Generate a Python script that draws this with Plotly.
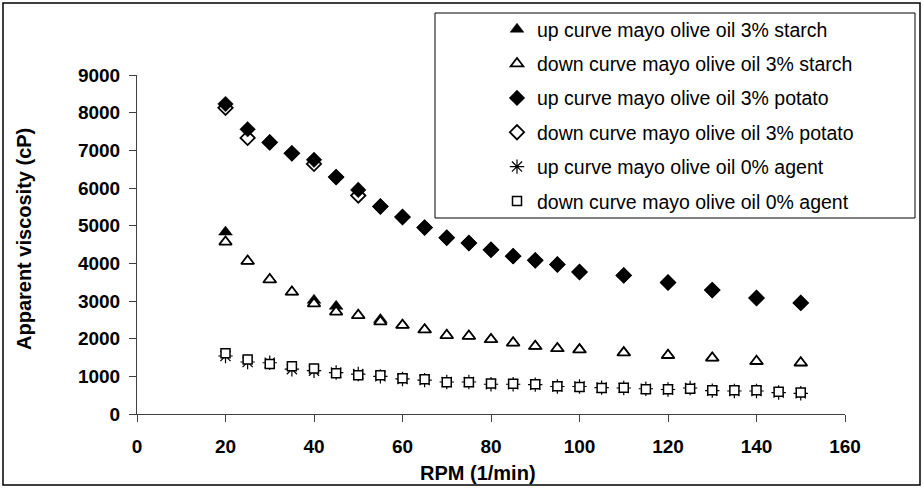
import plotly.graph_objects as go

# ---- data ----
rpm_main = [20, 25, 30, 35, 40, 45, 50, 55, 60, 65, 70, 75, 80, 85, 90, 95, 100, 110, 120, 130, 140, 150]
starch_up = [4830, 4060, 3570, 3240, 3020, 2860, 2620, 2510, 2360, 2240, 2090, 2070, 1980, 1890, 1800, 1740, 1710, 1630, 1560, 1490, 1400, 1360]
starch_down = [4570, 4060, 3570, 3240, 2930, 2710, 2620, 2450, 2360, 2240, 2090, 2070, 1980, 1890, 1800, 1740, 1710, 1630, 1560, 1490, 1400, 1360]
potato_up = [8230, 7560, 7210, 6920, 6750, 6290, 5950, 5510, 5230, 4950, 4680, 4540, 4360, 4190, 4080, 3970, 3770, 3680, 3490, 3290, 3080, 2950]
potato_down = [8130, 7330, 7210, 6920, 6640, 6290, 5800, 5510, 5230, 4950, 4680, 4540, 4360, 4190, 4080, 3970, 3770, 3680, 3490, 3290, 3080, 2950]

rpm_agent = [20, 25, 30, 35, 40, 45, 50, 55, 60, 65, 70, 75, 80, 85, 90, 95, 100, 105, 110, 115, 120, 125, 130, 135, 140, 145, 150]
agent_up = [1540, 1380, 1360, 1190, 1150, 1100, 1060, 1000, 930, 900, 850, 850, 790, 790, 780, 730, 730, 700, 690, 670, 650, 690, 620, 610, 610, 570, 550]
agent_down = [1610, 1450, 1330, 1270, 1210, 1080, 1030, 1030, 950, 920, 840, 840, 810, 800, 790, 740, 720, 690, 700, 660, 660, 670, 630, 630, 630, 590, 570]

names = [
    "up curve mayo olive oil 3% starch",
    "down curve mayo olive oil 3% starch",
    "up curve mayo olive oil 3% potato",
    "down curve mayo olive oil 3% potato",
    "up curve mayo olive oil 0% agent",
    "down curve mayo olive oil 0% agent",
]

x_ticks = [0, 20, 40, 60, 80, 100, 120, 140, 160]
y_ticks = [0, 1000, 2000, 3000, 4000, 5000, 6000, 7000, 8000, 9000]

x_title = "RPM (1/min)"
y_title = "Apparent viscosity (cP)"

FONT = "Liberation Sans, Arial, sans-serif"

fig = go.Figure()

def add(x, y, name, rank, symbol, size, color, line_w=1.5, line_c="black"):
    fig.add_trace(go.Scatter(
        x=x, y=y, name=name, mode="markers", legendrank=rank, legendgroup=name,
        marker=dict(symbol=symbol, size=size, color=color,
                    line=dict(color=line_c, width=line_w)),
    ))

# drawing order mimics original overlaps
add(rpm_main, starch_up, names[0], 1, "triangle-up", 12, "black", 0.5)
add(rpm_main, starch_down, names[1], 2, "triangle-up", 11, "white", 1.8)
add(rpm_main, potato_down, names[3], 4, "diamond", 11, "white", 1.8)
add(rpm_main, potato_up, names[2], 3, "diamond", 12, "black", 0.5)
add(rpm_agent, agent_up, names[4], 5, "asterisk-open", 12, "black", 1.2)
add(rpm_agent, agent_down, names[5], 6, "square", 9, "white", 1.5)

axis_common = dict(
    showline=True, linecolor="#404040", linewidth=1,
    ticks="outside", ticklen=7, tickcolor="#404040", tickwidth=1,
    showgrid=False, zeroline=False,
    tickfont=dict(family=FONT, size=19, color="black"),
)

fig.update_xaxes(range=[0, 160], tickvals=x_ticks, ticktext=["<b>%d</b>" % v for v in x_ticks],
                 ticklabelstandoff=8, **axis_common)
fig.update_yaxes(range=[0, 9000], tickvals=y_ticks, ticktext=["<b>%d</b>" % v for v in y_ticks],
                 ticklabelstandoff=5, **axis_common)

L, R, T, B = 137, 78, 75, 74
W, H = 923, 488
pw, ph = W - L - R, H - T - B

def px(xp):
    return (xp - L) / pw

def py(yp):
    return (H - B - yp) / ph

shapes = [
    # outer chart border
    dict(type="rect", xref="paper", yref="paper", x0=px(3), x1=px(920), y0=py(485), y1=py(3),
         line=dict(color="black", width=1.5), fillcolor="rgba(0,0,0,0)", layer="below"),
    # legend box
    dict(type="rect", xref="paper", yref="paper", x0=px(435), x1=px(915), y0=py(218), y1=py(13),
         line=dict(color="black", width=1), fillcolor="white", layer="below"),
]

annotations = [
    dict(text="<b>%s</b>" % x_title, xref="paper", yref="paper", x=px(478), y=py(473),
         xanchor="center", yanchor="middle", showarrow=False,
         font=dict(family=FONT, size=20, color="black")),
    dict(text="<b>%s</b>" % y_title, xref="paper", yref="paper", x=px(24), y=py(239),
         xanchor="center", yanchor="middle", showarrow=False, textangle=-90,
         font=dict(family=FONT, size=20, color="black")),
]

fig.update_layout(
    width=W, height=H,
    margin=dict(l=L, r=R, t=T, b=B, autoexpand=False),
    paper_bgcolor="white", plot_bgcolor="rgba(0,0,0,0)",
    font=dict(family=FONT, color="black"),
    shapes=shapes,
    annotations=annotations,
    showlegend=True,
    legend=dict(
        x=px(497), y=py(10), xanchor="left", yanchor="top",
        bgcolor="rgba(0,0,0,0)", borderwidth=0,
        font=dict(family=FONT, size=19.5, color="black"),
        traceorder="grouped", tracegroupgap=6,
        itemwidth=30,
    ),
)

fig.write_html("out.html", config={"displayModeBar": False},
               post_script="document.body.style.margin='0';")
